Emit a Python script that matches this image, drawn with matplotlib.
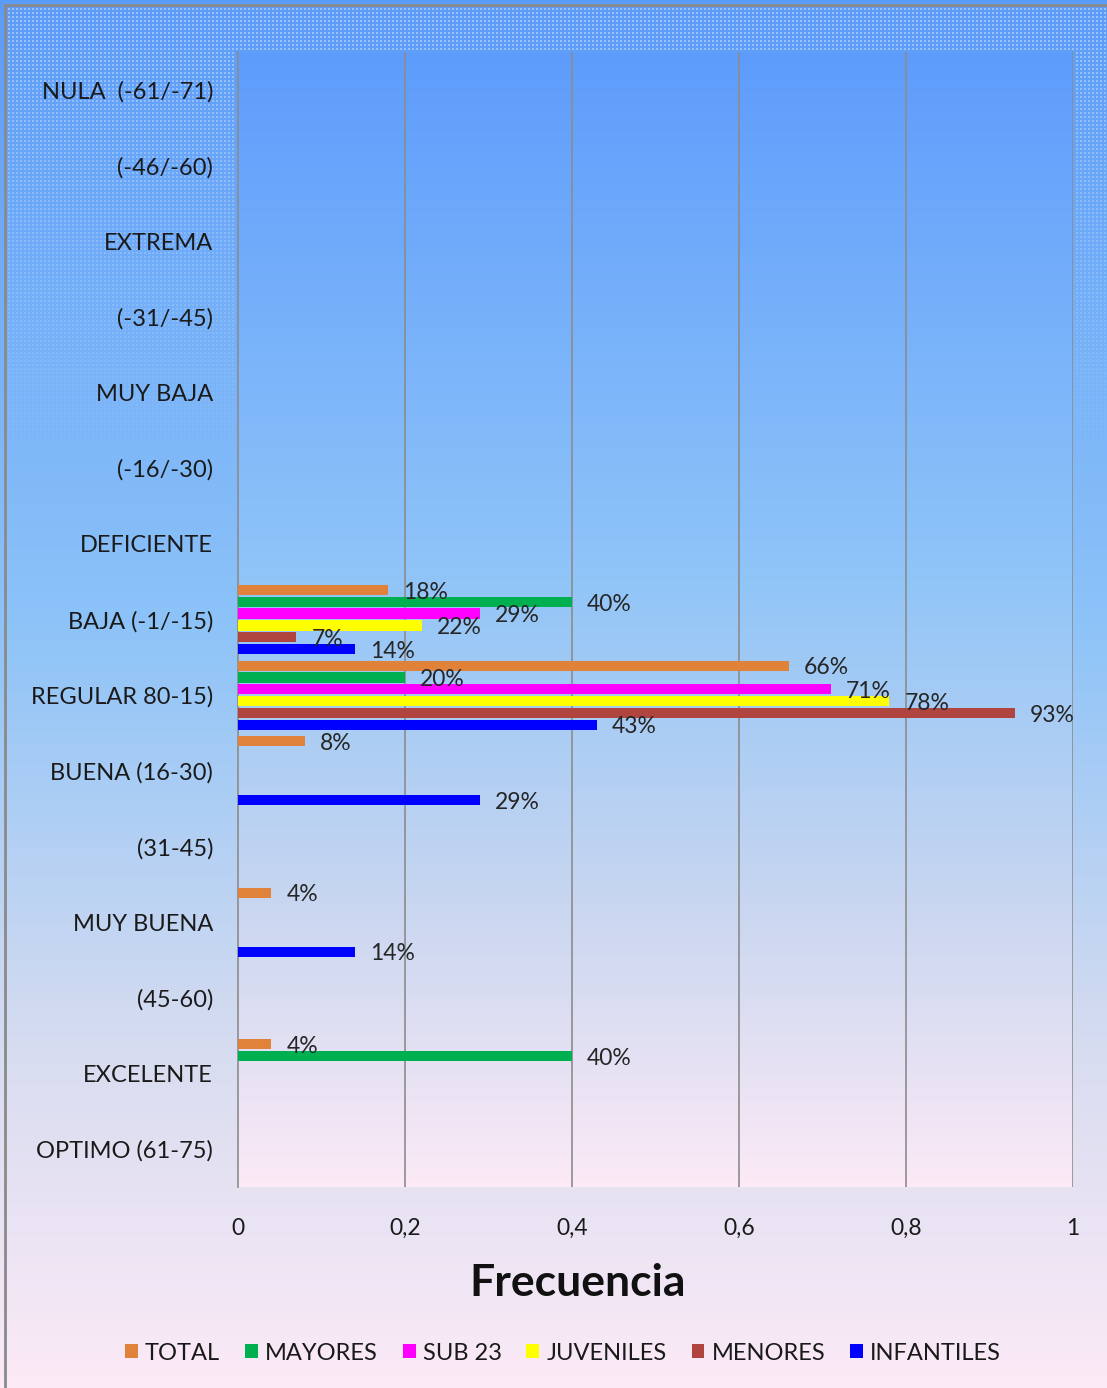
import matplotlib
matplotlib.use("Agg")
import matplotlib.pyplot as plt
import numpy as np
from matplotlib.colors import LinearSegmentedColormap
from matplotlib.patches import Patch
from matplotlib.lines import Line2D

plt.rcParams['font.family'] = ['Lato', 'DejaVu Sans']

categories = ["NULA  (-61/-71)", "(-46/-60)", "EXTREMA", "(-31/-45)", "MUY BAJA",
              "(-16/-30)", "DEFICIENTE", "BAJA (-1/-15)", "REGULAR 80-15)", "BUENA (16-30)",
              "(31-45)", "MUY BUENA", "(45-60)", "EXCELENTE", "OPTIMO (61-75)"]
series_names = ["TOTAL", "MAYORES", "SUB 23", "JUVENILES", "MENORES", "INFANTILES"]
series_colors = ["#E0823A", "#00B050", "#FF00FF", "#FFFF00", "#B04540", "#0000FF"]

total      = [0, 0, 0, 0, 0, 0, 0, 0.18, 0.66, 0.08, 0, 0.04, 0, 0.04, 0]
mayores    = [0, 0, 0, 0, 0, 0, 0, 0.40, 0.20, 0,    0, 0,    0, 0.40, 0]
sub23      = [0, 0, 0, 0, 0, 0, 0, 0.29, 0.71, 0,    0, 0,    0, 0,    0]
juveniles  = [0, 0, 0, 0, 0, 0, 0, 0.22, 0.78, 0,    0, 0,    0, 0,    0]
menores    = [0, 0, 0, 0, 0, 0, 0, 0.07, 0.93, 0,    0, 0,    0, 0,    0]
infantiles = [0, 0, 0, 0, 0, 0, 0, 0.14, 0.43, 0.29, 0, 0.14, 0, 0,    0]
series = [total, mayores, sub23, juveniles, menores, infantiles]

xticks = [0, 0.2, 0.4, 0.6, 0.8, 1.0]
xticklabels = ["0", "0,2", "0,4", "0,6", "0,8", "1"]

W, H = 1107, 1388
fig = plt.figure(figsize=(W / 100, H / 100), dpi=100)

left, right, top, bottom = 238, 1073, 52, 1187

# figure background gradient
bg = fig.add_axes([0, 0, 1, 1], zorder=-10)
cmap_fig = LinearSegmentedColormap.from_list(
    "figbg", [(0, "#5C9CF9"), (0.45, "#8DC3F8"), (0.75, "#D6DCF0"), (1.0, "#FCEAF6")])
grad = np.linspace(0, 1, 256).reshape(-1, 1)
bg.imshow(grad, aspect="auto", cmap=cmap_fig, extent=[0, 1, 1, 0])
bg.set_xlim(0, 1); bg.set_ylim(1, 0)
bg.axis("off")

# dotted texture near the top, outside the plot area
gx, gy = np.meshgrid(np.arange(9, W, 4), np.arange(9, 480, 4))
gx = gx.ravel(); gy = gy.ravel()
inside = (gx > left - 2) & (gx < right + 2) & (gy > top - 2)
gx = gx[~inside]; gy = gy[~inside]
alphas = np.clip(0.4 * (1 - (gy - 9) / 470.0), 0, 1)
cols = np.zeros((len(gx), 4)); cols[:, :3] = 1.0; cols[:, 3] = alphas
bg.scatter(gx / W, gy / H, s=0.7, marker="s", c=cols, linewidths=0)

# border lines (left and top)
bg.add_line(Line2D([5 / W, 5 / W], [5 / H, 1], color="#8A8A8A", lw=2))
bg.add_line(Line2D([5 / W, 1], [5 / H, 5 / H], color="#8A8A8A", lw=2))

ax = fig.add_axes([left / W, 1 - bottom / H, (right - left) / W, (bottom - top) / H])

n = len(categories)
ax.set_xlim(0, 1)
ax.set_ylim(n - 0.5, -0.5)

cmap_ax = LinearSegmentedColormap.from_list(
    "axbg", [(0, "#5E9CFC"), (0.45, "#8EC4F8"), (0.75, "#C8D6F0"), (1.0, "#FCEAF6")])
ax.imshow(grad, aspect="auto", cmap=cmap_ax, extent=[0, 1, n - 0.5, -0.5], zorder=0)

slot = 0.156
bh = 0.135
y = np.arange(n)
for j, (vals, col) in enumerate(zip(series, series_colors)):
    pos = y + (j - 2.5) * slot
    ax.barh(pos, vals, height=bh, color=col, zorder=3)
    for p, v in zip(pos, vals):
        if v > 0:
            ax.text(v + 0.018, p + 0.03, f"{round(v * 100)}%", va="center", ha="left",
                    fontsize=16.5, color="#262626", zorder=4)

ax.set_yticks(y)
ax.set_yticklabels(categories, fontsize=17, color="#1A1A1A")
ax.set_xticks(xticks)
ax.set_xticklabels(xticklabels, fontsize=16.5, color="#1A1A1A")
ax.tick_params(axis="y", length=0, pad=18)
ax.tick_params(axis="x", length=0, pad=22)
for x in xticks[1:]:
    ax.axvline(x, color="#8C8C8C", lw=1.2, zorder=1)
for s in ["top", "right", "bottom"]:
    ax.spines[s].set_visible(False)
ax.spines["left"].set_color("#8C8C8C")
ax.spines["left"].set_linewidth(1.2)

fig.text(578 / W, 1 - 1283 / H, "Frecuencia", fontsize=32, fontweight="bold",
         ha="center", va="center", color="#111111")

handles = [Patch(facecolor=c, edgecolor="none") for c in series_colors]
fig.legend(handles, series_names, loc="center", bbox_to_anchor=(563 / W, 1 - 1353 / H),
           ncol=6, frameon=False, fontsize=17, handlelength=0.55, handleheight=0.55,
           handletextpad=0.3, columnspacing=1.05, labelcolor="#1A1A1A")

fig.savefig("out.png", dpi=100)
